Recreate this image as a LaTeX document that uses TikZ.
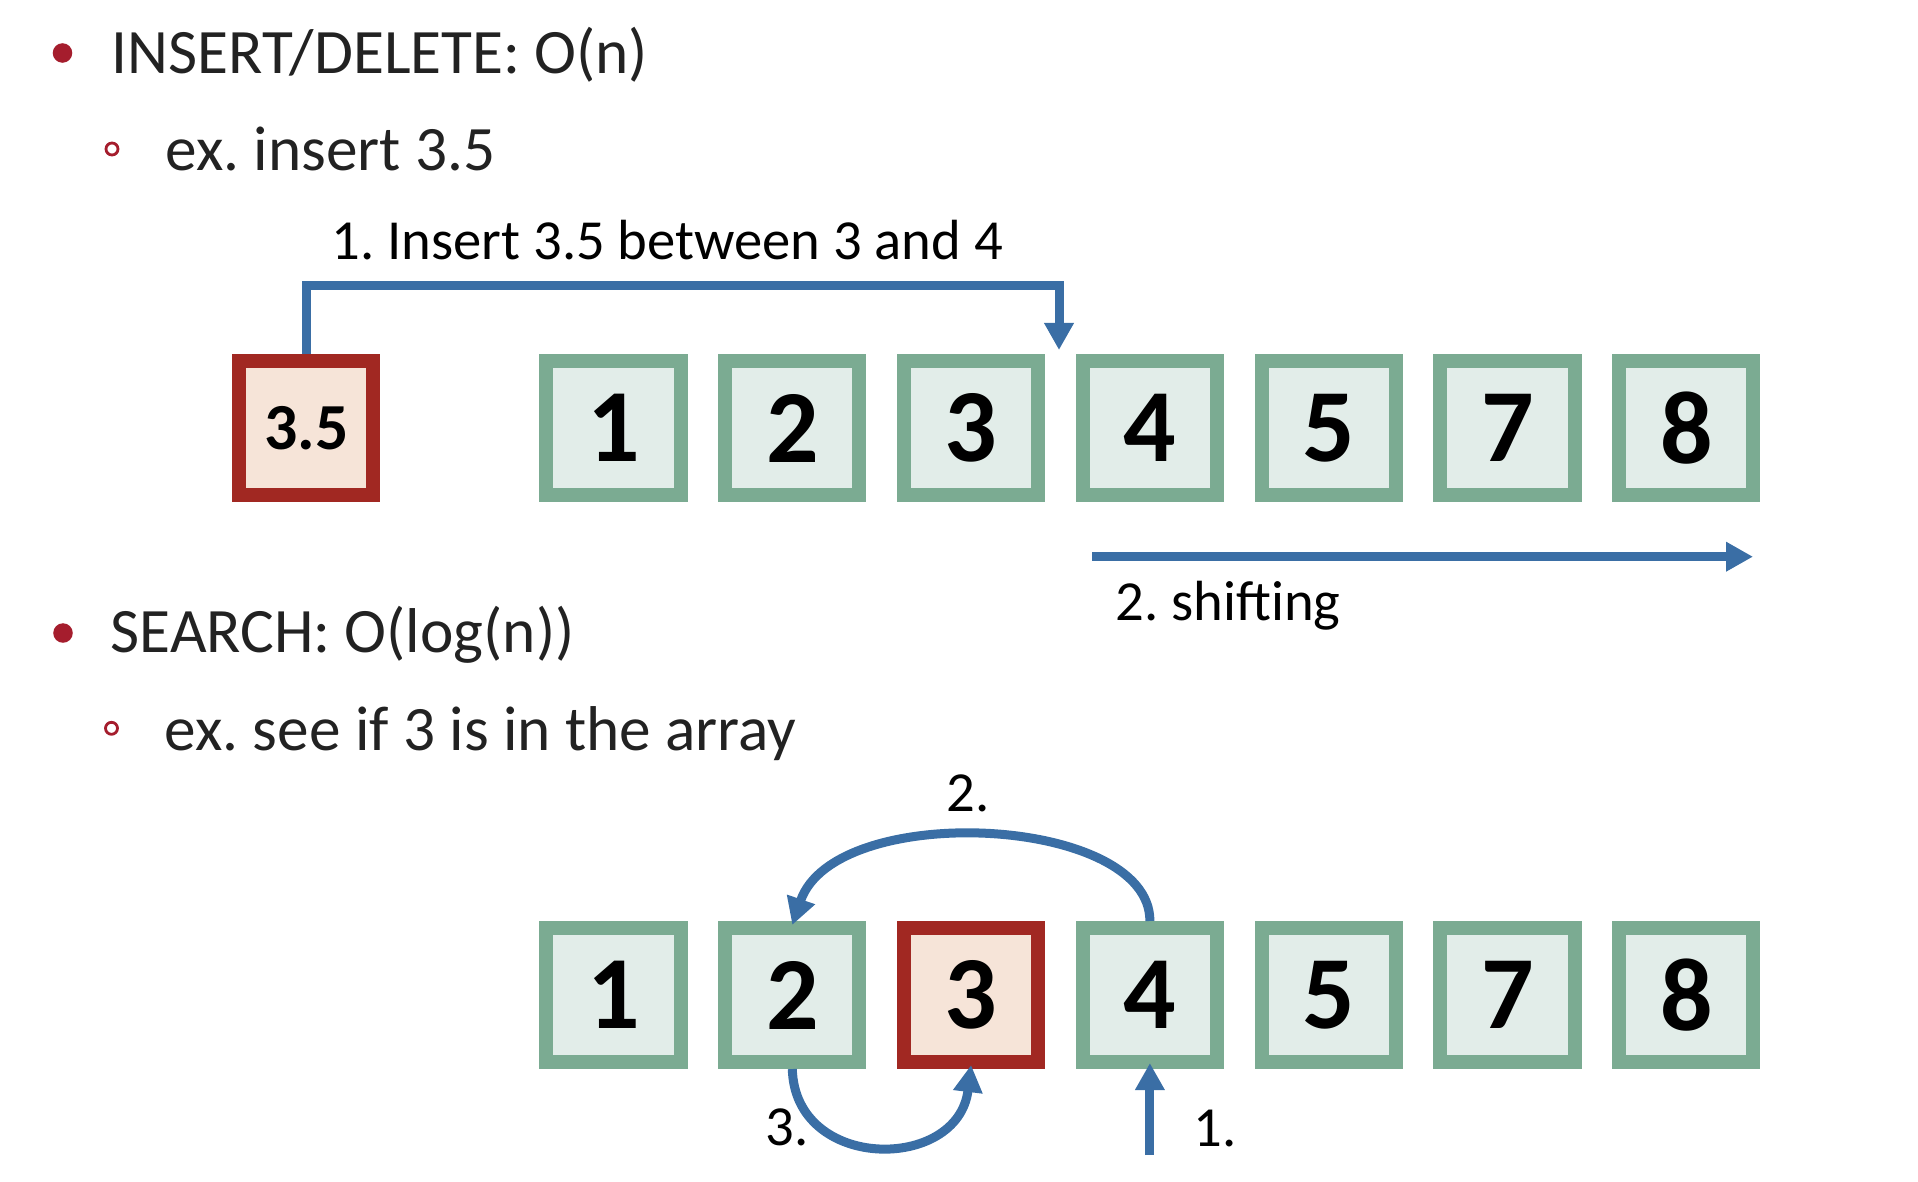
\documentclass[tikz,border=0pt]{standalone}
\usepackage{fontspec}
\setmainfont{Carlito}
\frenchspacing
\usetikzlibrary{arrows.meta}
\definecolor{gbord}{HTML}{7BAB92}
\definecolor{gfill}{HTML}{E2EDE9}
\definecolor{rbord}{HTML}{A12822}
\definecolor{rfill}{HTML}{F6E4D8}
\definecolor{bl}{HTML}{3A6EA5}
\definecolor{bul}{HTML}{A51D2D}
\definecolor{txt}{HTML}{222222}
\begin{document}
\begin{tikzpicture}[x=0.01cm,y=-0.01cm,
  btext/.style={anchor=base west, inner sep=0, text=txt, font=\fontsize{18}{21.6}\selectfont},
  lbl/.style={anchor=base west, inner sep=0, text=black, font=\fontsize{16.1}{19}\selectfont},
  cell/.style={rectangle, minimum width=1.34cm, minimum height=1.34cm, line width=0.14cm,
    draw=gbord, fill=gfill, inner sep=0, text=black, font=\bfseries\fontsize{29.5}{32}\selectfont},
  redcell/.style={cell, draw=rbord, fill=rfill},
  dotbullet/.style={circle, fill=bul, inner sep=0, minimum size=0.195cm},
  ringbullet/.style={circle, draw=bul, line width=0.028cm, inner sep=0, minimum size=0.12cm},
  barrow/.style={draw=bl, line width=0.09cm, -{Triangle[width=0.28cm,length=0.27cm]}}
]
\useasboundingbox (0,0) rectangle (1918,1182);

% bullets and texts
\node[dotbullet] (d1) at (62.5,53) {};
\node[btext] (h1) at (111,73.3) {INSERT/DELETE: O(n)};
\node[ringbullet] (r1) at (112,149) {};
\node[btext] (e1) at (165,170.5) {ex. insert 3.5};

\node[dotbullet] (d2) at (63,633) {};
\node[btext] (h2) at (110,652.7) {SEARCH: O(log(n))};
\node[ringbullet] (r2) at (111.5,728.3) {};
\node[btext] (e2) at (164,750) {ex. see if 3 is in the array};

% top row
\node[redcell, font=\bfseries\fontsize{18.7}{21}\selectfont] (t0) at (306.4,428.3) {3.5};
\node[cell] (t1) at (613.5,428.3) {1};
\node[cell] (t2) at (792.3,428.3) {2};
\node[cell] (t3) at (971.1,428.3) {3};
\node[cell] (t4) at (1149.9,428.3) {4};
\node[cell] (t5) at (1328.7,428.3) {5};
\node[cell] (t6) at (1507.5,428.3) {7};
\node[cell] (t7) at (1686.3,428.3) {8};

\node[lbl] (l1) at (331,259.3) {1. Insert 3.5 between 3 and 4};
\coordinate (ins) at (1059,350);
\coordinate (insTop) at (1059,285.5);
\draw[barrow] (t0.north) -- (t0.north |- insTop) -- (insTop) -- (ins);

\coordinate (sh1) at (1092,556.7);
\coordinate (sh2) at (1753,556.7);
\draw[barrow] (sh1) -- (sh2);
\node[lbl] (l2) at (1115,620) {2. shifting};

% bottom row
\node[cell] (s1) at (613.5,995) {1};
\node[cell] (s2) at (792.3,995) {2};
\node[redcell] (s3) at (971.1,995) {3};
\node[cell] (s4) at (1149.9,995) {4};
\node[cell] (s5) at (1328.7,995) {5};
\node[cell] (s6) at (1507.5,995) {7};
\node[cell] (s7) at (1686.3,995) {8};

\coordinate (a1) at (1149.9,1155);
\draw[barrow] (a1) -- ([yshift=0.06cm]s4.south);
\node[lbl] (n1) at (1193,1146.7) {1.};

\draw[barrow] (s4.north) .. controls (1150,815) and (835,800) .. ([yshift=-0.04cm]s2.north);
\node[lbl] (n2) at (946,811.7) {2.};

\draw[barrow] (s2.south) .. controls (795,1172) and (958,1172) .. ([yshift=0.04cm]s3.south);
\node[lbl] (n3) at (765,1145) {3.};
\end{tikzpicture}
\end{document}
